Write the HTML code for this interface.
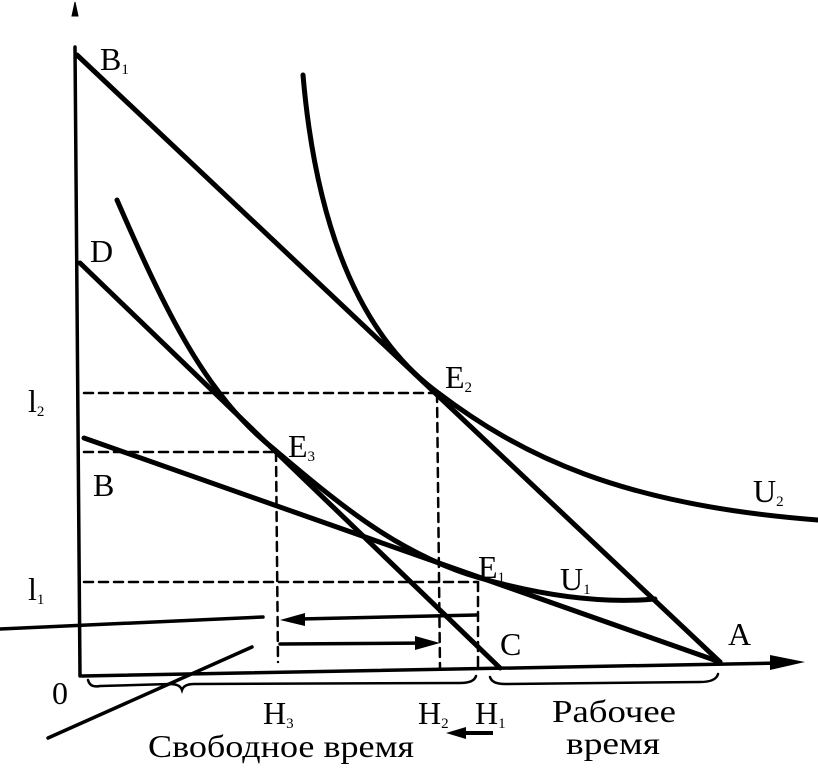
<!DOCTYPE html>
<html><head><meta charset="utf-8"><style>
html,body{margin:0;padding:0;background:#fff;}
svg{display:block}
text{font-family:"Liberation Serif",serif;fill:#000}
</style></head><body>
<svg width="818" height="768" viewBox="0 0 818 768">
<g stroke="#000" fill="none" stroke-linecap="round">
<line x1="75" y1="47" x2="80" y2="676" stroke-width="3.5"/>
<polygon points="72,16 75,2 78,16" fill="#000"/>
<line x1="82" y1="676" x2="780" y2="663" stroke-width="3.5"/>
<polygon points="770,655 805,662 770,670" fill="#000" stroke="none"/>
<line x1="77" y1="55" x2="720" y2="662" stroke-width="5"/>
<line x1="80" y1="263" x2="500" y2="668" stroke-width="5"/>
<line x1="84" y1="438" x2="720" y2="662" stroke-width="5"/>
<path d="M303,75 C312,180 340,320 437,392 C520,455 620,505 818,520" stroke-width="5"/>
<path d="M117,200 C165,310 205,395 275,450 C340,505 400,555 480,578 C540,595 600,604 655,599" stroke-width="5"/>
<g stroke-width="2.5" stroke-dasharray="9,6">
<line x1="84" y1="393" x2="437" y2="393"/>
<line x1="437" y1="393" x2="440" y2="668"/>
<line x1="84" y1="452" x2="276" y2="452"/>
<line x1="276" y1="452" x2="278" y2="662"/>
<line x1="84" y1="582" x2="478" y2="582"/>
<line x1="478" y1="582" x2="478" y2="668"/>
</g>
<line x1="0" y1="629" x2="263" y2="617" stroke-width="3.5"/>
<line x1="300" y1="619" x2="477" y2="615" stroke-width="3.5"/>
<line x1="280" y1="644" x2="430" y2="643" stroke-width="3.5"/>
<line x1="48" y1="738" x2="252" y2="647" stroke-width="3.5"/>
<path d="M88,680 Q90,688 100,686 L170,684 Q180,684 182,690 Q184,684 194,684 L460,683 Q474,683 476,676" stroke-width="2.5"/>
<path d="M490,677 Q492,684 505,684 L700,682 Q716,682 718,674" stroke-width="2.5"/>
</g>
<polygon points="280,620 305,613 305,626" fill="#000"/>
<polygon points="440,643 415,636 415,650" fill="#000"/>
<polygon points="446,733 466,727 466,739" fill="#000"/>
<line x1="460" y1="733" x2="493" y2="733" stroke="#000" stroke-width="4"/>
<g font-size="32">
<text x="100" y="70">B<tspan font-size="15" dy="4">1</tspan></text>
<text x="90" y="262">D</text>
<text x="28" y="412">l<tspan font-size="15" dy="4">2</tspan></text>
<text x="93" y="496">B</text>
<text x="28" y="600">l<tspan font-size="15" dy="4">1</tspan></text>
<text x="52" y="704">0</text>
<text x="445" y="388">E<tspan font-size="15" dy="4">2</tspan></text>
<text x="288" y="457">E<tspan font-size="15" dy="4">3</tspan></text>
<text x="478" y="578">E<tspan font-size="15" dy="4">1</tspan></text>
<text x="560" y="590">U<tspan font-size="15" dy="4">1</tspan></text>
<text x="753" y="502">U<tspan font-size="15" dy="4">2</tspan></text>
<text x="500" y="655">C</text>
<text x="728" y="645">A</text>
<text x="263" y="724">H<tspan font-size="15" dy="4">3</tspan></text>
<text x="418" y="724">H<tspan font-size="15" dy="4">2</tspan></text>
<text x="475" y="724">H<tspan font-size="15" dy="4">1</tspan></text>
<text x="552" y="722" textLength="124" lengthAdjust="spacingAndGlyphs">Рабочее</text>
<text x="566" y="754" textLength="94" lengthAdjust="spacingAndGlyphs">время</text>
<text x="148" y="757" textLength="266" lengthAdjust="spacingAndGlyphs">Свободное время</text>
</g>
</svg>
</body></html>
